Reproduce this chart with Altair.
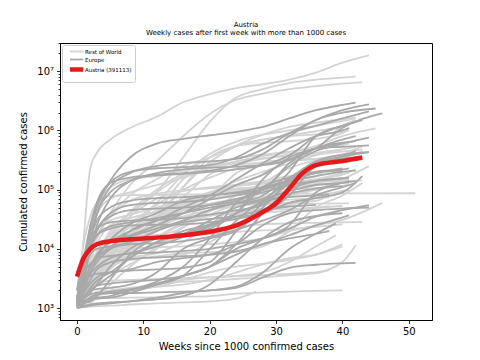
import altair as alt
import pandas as pd

WEEKS = [0, 1, 2, 3, 5, 8, 12, 16, 20, 24, 28, 32, 36, 40]
GROUPS = ["Rest of World", "Europe", "Austria (391113)"]
COLORS = ["#d3d3d3", "#a9a9a9", "#e41a1c"]
WIDTHS = [1.8, 1.8, 4.5]

# (last week, values at WEEKS points before last week + value at last week)
rest_of_world = {
    "US": (44, [1.2e3, 1.5e4, 2.3e5, 4.2e5, 7e5, 1.1e6, 1.7e6, 3e6, 4.1e6, 5.2e6, 6e6, 7.2e6, 9.5e6, 1.4e7, 1.85e7]),
    "India": (42, [1.1e3, 2.5e3, 5e3, 8e3, 2e4, 4e4, 9e4, 3.5e5, 1.4e6, 3.6e6, 5e6, 6.3e6, 7.2e6, 7.8e6, 8.1e6]),
    "Brazil": (43, [1.2e3, 3e3, 8e3, 1.5e4, 4e4, 1.2e5, 3e5, 8e5, 1.9e6, 3.3e6, 4.2e6, 5e6, 5.6e6, 6.2e6, 6.5e6]),
    "Turkey": (42, [1.2e3, 7e3, 2.3e4, 5.2e4, 1.1e5, 1.5e5, 1.7e5, 2.1e5, 2.4e5, 2.8e5, 3.3e5, 4e5, 5e5, 1.2e6, 1.5e6]),
    "Argentina": (42, [1.1e3, 1.7e3, 2.5e3, 3.5e3, 5.5e3, 1.1e4, 3.5e4, 1.1e5, 2.9e5, 5.5e5, 8.5e5, 1.15e6, 1.35e6, 1.55e6, 1.65e6]),
    "Colombia": (42, [1.2e3, 2e3, 3e3, 4.5e3, 1e4, 2.5e4, 6e4, 1.8e5, 4e5, 6.5e5, 8.5e5, 1e6, 1.2e6, 1.45e6, 1.6e6]),
    "Mexico": (42, [1.1e3, 2e3, 3.2e3, 6e3, 1.6e4, 4.2e4, 1e5, 1.9e5, 3.5e5, 5.5e5, 7e5, 8.3e5, 9.7e5, 1.2e6, 1.4e6]),
    "Iran": (45, [1.2e3, 7e3, 1.8e4, 3.8e4, 7e4, 9e4, 1.2e5, 1.6e5, 2.3e5, 3e5, 3.7e5, 4.3e5, 5.5e5, 8e5, 1.08e6]),
    "South Africa": (41, [1.1e3, 1.5e3, 2e3, 3e3, 4.5e3, 1e4, 3e4, 1.1e5, 3.5e5, 5.5e5, 6.2e5, 6.6e5, 7.2e5, 9e5, 1.1e6]),
    "Peru": (41, [1.2e3, 2.5e3, 7e3, 1.5e4, 3.6e4, 8e4, 1.5e5, 2.5e5, 3.5e5, 5.5e5, 7e5, 8e5, 8.6e5, 9.5e5, 1e6]),
    "Chile": (41, [1.1e3, 2.5e3, 4e3, 6e3, 1e4, 1.7e4, 4e4, 1.5e5, 2.7e5, 3.4e5, 3.9e5, 4.4e5, 4.9e5, 5.6e5, 6e5]),
    "Canada": (43, [1.2e3, 4e3, 1e4, 1.7e4, 3.5e4, 6.5e4, 8.5e4, 9.8e4, 1.05e5, 1.15e5, 1.3e5, 1.6e5, 2.4e5, 3.8e5, 5.5e5]),
    "Israel": (43, [1.2e3, 3.5e3, 8e3, 1.2e4, 1.5e4, 1.6e4, 1.7e4, 2.3e4, 4.5e4, 8e4, 1.3e5, 2.3e5, 3.1e5, 3.4e5, 4.5e5]),
    "Philippines": (43, [1.1e3, 2.5e3, 4e3, 6e3, 9e3, 1.2e4, 1.6e4, 3e4, 7e4, 1.9e5, 2.7e5, 3.3e5, 3.9e5, 4.4e5, 4.8e5]),
    "Indonesia": (42, [1.1e3, 1.8e3, 3e3, 4.5e3, 8e3, 1.4e4, 2.6e4, 4.5e4, 8.5e4, 1.4e5, 2e5, 2.8e5, 3.8e5, 4.8e5, 5.3e5]),
    "Saudi Arabia": (41, [1.2e3, 1.8e3, 2.8e3, 4e3, 7.5e3, 2e4, 5.5e4, 1e5, 1.6e5, 2.3e5, 2.9e5, 3.2e5, 3.3e5, 3.45e5, 3.55e5]),
    "Pakistan": (42, [1.1e3, 2e3, 3e3, 4.6e3, 8e3, 1.5e4, 3.2e4, 7.5e4, 1.8e5, 2.6e5, 2.9e5, 3.1e5, 3.3e5, 3.9e5, 4.9e5]),
    "Bangladesh": (40, [1.2e3, 2.5e3, 5e3, 9e3, 1.8e4, 4e4, 9e4, 1.7e5, 2.4e5, 3e5, 3.4e5, 3.7e5, 4.2e5, 4.8e5]),
    "China": (51, [2e3, 1.2e4, 3.5e4, 6e4, 7.8e4, 8.1e4, 8.2e4, 8.3e4, 8.35e4, 8.45e4, 8.5e4, 8.55e4, 8.6e4, 8.65e4, 8.7e4]),
    "Japan": (44, [1.1e3, 1.5e3, 2.5e3, 4e3, 9e3, 1.3e4, 1.6e4, 1.75e4, 2.5e4, 5.5e4, 7e4, 8e4, 1e5, 1.5e5, 2.5e5]),
    "South Korea": (46, [2e3, 5e3, 7e3, 8e3, 9e3, 1e4, 1.07e4, 1.1e4, 1.2e4, 1.3e4, 1.5e4, 2e4, 2.5e4, 3.1e4, 6e4]),
    "Australia": (43, [1.2e3, 3.5e3, 5.5e3, 6.3e3, 6.7e3, 6.9e3, 7.2e3, 7.9e3, 1.3e4, 2.3e4, 2.6e4, 2.7e4, 2.75e4, 2.8e4, 2.85e4]),
    "Egypt": (41, [1.1e3, 1.5e3, 2.3e3, 3.1e3, 5.5e3, 1.1e4, 2.6e4, 5.5e4, 8.8e4, 9.7e4, 1e5, 1.03e5, 1.06e5, 1.15e5, 1.3e5]),
    "Malaysia": (43, [1.3e3, 2.5e3, 3.5e3, 4.5e3, 5.5e3, 6.5e3, 7.5e3, 8.5e3, 8.8e3, 9.3e3, 1.1e4, 2e4, 5e4, 8e4, 1.3e5]),
    "Thailand": (42, [1.1e3, 1.6e3, 2.2e3, 2.6e3, 2.9e3, 3e3, 3.1e3, 3.2e3, 3.35e3, 3.45e3, 3.6e3, 3.8e3, 4e3, 6e3, 1.15e4]),
    "New Zealand": (40, [1.05e3, 1.2e3, 1.4e3, 1.45e3, 1.48e3, 1.5e3, 1.52e3, 1.55e3, 1.6e3, 1.75e3, 1.85e3, 1.9e3, 1.95e3, 2e3]),
    "Vietnam": (27, [1.02e3, 1.04e3, 1.06e3, 1.08e3, 1.1e3, 1.15e3, 1.2e3, 1.25e3, 1.3e3, 1.45e3, 1.9e3]),
    "Taiwan": (38, [1.02e3, 1.3e3, 1.6e3, 1.9e3, 2e3, 2.2e3, 2.5e3, 2.8e3, 2.9e3, 3.1e3, 3.3e3, 3.6e3, 3.9e3, 4.4e3]),
    "Sri Lanka": (39, [1.02e3, 1.2e3, 1.4e3, 1.6e3, 1.8e3, 2e3, 2.5e3, 3e3, 3.3e3, 3.5e3, 4e3, 6e3, 1.1e4, 1.7e4]),
    "Uruguay": (40, [1.05e3, 1.3e3, 1.5e3, 1.7e3, 1.9e3, 2e3, 2.3e3, 2.5e3, 3e3, 4e3, 5.5e3, 7e3, 8e3, 1.1e4]),
    "Kazakhstan": (41, [1.2e3, 2e3, 3e3, 4e3, 6e3, 1.1e4, 2e4, 5e4, 8.5e4, 1.05e5, 1.1e5, 1.2e5, 1.4e5, 1.55e5, 1.65e5]),
    "Qatar": (43, [1.3e3, 2.5e3, 4e3, 7e3, 1.5e4, 3.5e4, 7e4, 9.5e4, 1.1e5, 1.2e5, 1.26e5, 1.31e5, 1.36e5, 1.4e5, 1.44e5]),
    "UAE": (42, [1.1e3, 2.5e3, 5e3, 8e3, 1.3e4, 2e4, 3.5e4, 4.5e4, 5.8e4, 6.5e4, 7.5e4, 1e5, 1.45e5, 1.8e5, 2.2e5]),
    "Morocco": (42, [1.1e3, 1.8e3, 3e3, 4e3, 5e3, 7e3, 8.5e3, 1.3e4, 2.5e4, 5.5e4, 9e4, 1.5e5, 2.5e5, 3.7e5, 4.2e5]),
    "Nigeria": (38, [1.1e3, 1.7e3, 2.5e3, 3.5e3, 6e3, 1.2e4, 2.2e4, 3.5e4, 4.5e4, 5.3e4, 5.7e4, 6.1e4, 6.5e4, 8e4]),
    "Ghana": (38, [1.1e3, 1.5e3, 2.2e3, 3e3, 5e3, 9e3, 1.6e4, 2.6e4, 3.6e4, 4.3e4, 4.6e4, 4.7e4, 5e4, 5.3e4]),
    "Kenya": (33, [1.1e3, 1.5e3, 2.2e3, 3e3, 5e3, 1e4, 2e4, 3e4, 3.6e4, 4.2e4, 5.5e4, 8e4, 9.5e4]),
    "Ecuador": (40, [1.2e3, 3e3, 8e3, 2.2e4, 3e4, 3.8e4, 5e4, 6.8e4, 9e4, 1.2e5, 1.4e5, 1.7e5, 1.9e5, 2.1e5]),
    "Bolivia": (38, [1.1e3, 1.7e3, 2.5e3, 3.5e3, 6e3, 1.4e4, 3e4, 5.5e4, 9e4, 1.2e5, 1.3e5, 1.38e5, 1.43e5, 1.5e5]),
    "Panama": (40, [1.2e3, 2.5e3, 3.5e3, 4.5e3, 7.5e3, 1.2e4, 2.3e4, 4.5e4, 7.5e4, 9.5e4, 1.1e5, 1.3e5, 1.5e5, 1.9e5]),
    "Dominican Republic": (40, [1.3e3, 2.5e3, 4e3, 5.5e3, 9e3, 1.5e4, 2.5e4, 5e4, 8e4, 1e5, 1.15e5, 1.25e5, 1.35e5, 1.6e5]),
    "Guatemala": (36, [1.1e3, 1.6e3, 2.5e3, 3.8e3, 8e3, 2e4, 4.2e4, 6.5e4, 8.3e4, 9.5e4, 1.05e5, 1.13e5, 1.2e5]),
    "Oman": (40, [1.1e3, 1.6e3, 2.5e3, 3.5e3, 7e3, 1.6e4, 3.6e4, 6e4, 8.5e4, 1e5, 1.1e5, 1.2e5, 1.25e5, 1.3e5]),
    "Singapore": (41, [1.1e3, 2.5e3, 6e3, 1.2e4, 2.5e4, 3.3e4, 4.2e4, 5.2e4, 5.6e4, 5.7e4, 5.75e4, 5.8e4, 5.82e4, 5.85e4, 5.87e4]),
    "Kuwait": (41, [1.2e3, 2e3, 3.5e3, 6e3, 1.4e4, 2.8e4, 4.4e4, 6e4, 7.8e4, 9.2e4, 1.05e5, 1.2e5, 1.35e5, 1.45e5, 1.5e5]),
    "Algeria": (41, [1.2e3, 1.8e3, 2.6e3, 3.3e3, 5e3, 7.5e3, 1.1e4, 1.6e4, 2.5e4, 3.8e4, 4.8e4, 5.5e4, 7.5e4, 9.5e4, 1e5]),
    "Cameroon": (40, [1.1e3, 1.5e3, 2.2e3, 3e3, 5e3, 8e3, 1.2e4, 1.6e4, 1.8e4, 1.95e4, 2.05e4, 2.15e4, 2.35e4, 2.6e4]),
    "Honduras": (38, [1.1e3, 1.5e3, 2e3, 2.8e3, 5e3, 1e4, 2.2e4, 4e4, 5.8e4, 6.8e4, 7.4e4, 8.5e4, 1e5, 1.1e5]),
    "Afghanistan": (40, [1.1e3, 1.8e3, 3e3, 5.3e3, 1.3e4, 2.3e4, 3.1e4, 3.5e4, 3.75e4, 3.9e4, 4.1e4, 4.4e4, 4.9e4, 5.3e4]),
    "Lebanon": (37, [1.05e3, 1.1e3, 1.2e3, 1.5e3, 2.5e3, 5e3, 1.1e4, 2.4e4, 4.3e4, 6.5e4, 1e5, 1.4e5, 1.7e5, 1.9e5]),
    "Ethiopia": (30, [1.1e3, 1.5e3, 2.5e3, 4e3, 8e3, 1.8e4, 3.5e4, 5.5e4, 7e4, 8.5e4, 1e5, 1.1e5]),
    "Cuba": (40, [1.1e3, 1.3e3, 1.5e3, 1.7e3, 1.85e3, 2e3, 2.3e3, 3e3, 4e3, 5e3, 5.6e3, 6.5e3, 8e3, 1.2e4]),
    "Uzbekistan": (38, [1.2e3, 1.6e3, 2e3, 2.5e3, 3.5e3, 5.5e3, 1e4, 2.3e4, 3.8e4, 5.5e4, 6.2e4, 6.8e4, 7.2e4, 7.5e4]),
}

europe = {
    "Russia": (42, [1.5e3, 5e3, 2e4, 5e4, 1.4e5, 3.5e5, 6e5, 7.2e5, 8.3e5, 9.5e5, 1.15e6, 1.6e6, 2.2e6, 2.7e6, 2.95e6]),
    "United Kingdom": (44, [1.3e3, 4e3, 1.5e4, 4e4, 1.1e5, 1.9e5, 2.5e5, 2.8e5, 3e5, 3.3e5, 4.8e5, 9e5, 1.5e6, 2.2e6, 2.75e6]),
    "France": (45, [1.2e3, 4.5e3, 1.4e4, 3.8e4, 9e4, 1.4e5, 1.8e5, 1.9e5, 2.1e5, 2.6e5, 4e5, 8e5, 1.5e6, 2e6, 2.35e6]),
    "Italy": (46, [1.1e3, 3e3, 1e4, 2.5e4, 7e4, 1.4e5, 1.9e5, 2.2e5, 2.35e5, 2.45e5, 2.6e5, 3.2e5, 5e5, 1.1e6, 1.95e6]),
    "Spain": (44, [1.4e3, 6e3, 2.5e4, 6e4, 1.3e5, 2e5, 2.3e5, 2.4e5, 2.6e5, 3.5e5, 6e5, 9e5, 1.2e6, 1.6e6, 2.1e6]),
    "Germany": (43, [1.1e3, 5e3, 2e4, 6e4, 1.3e5, 1.6e5, 1.75e5, 1.85e5, 2e5, 2.2e5, 2.6e5, 3.8e5, 8e5, 1.2e6, 1.5e6]),
    "Poland": (41, [1.2e3, 3e3, 5e3, 7e3, 1.1e4, 1.6e4, 2.2e4, 3e4, 4.5e4, 6e4, 8e4, 2e5, 8e5, 1.2e6, 1.3e6]),
    "Netherlands": (44, [1.3e3, 5e3, 1.2e4, 2.2e4, 3.5e4, 4.5e4, 4.8e4, 5e4, 5.5e4, 6.5e4, 1e5, 2.5e5, 4.5e5, 6e5, 7.6e5]),
    "Belgium": (44, [1.2e3, 3e3, 1e4, 2e4, 4e4, 5.5e4, 6e4, 6.2e4, 6.8e4, 8e4, 1e5, 2.8e5, 5e5, 5.3e5, 5.6e5]),
    "Czechia": (42, [1.2e3, 2.5e3, 3.8e3, 5e3, 7e3, 8.5e3, 1.1e4, 1.6e4, 2.4e4, 4e4, 1.5e5, 3.5e5, 5e5, 7e5, 8e5]),
    "Switzerland": (44, [2e3, 7e3, 1.5e4, 2.2e4, 2.8e4, 3e4, 3.1e4, 3.3e4, 3.8e4, 4.5e4, 5.5e4, 1.5e5, 3e5, 3.9e5, 4.3e5]),
    "Portugal": (42, [1.3e3, 4e3, 1e4, 1.7e4, 2.4e4, 2.8e4, 3.3e4, 4e4, 5e4, 5.8e4, 7e4, 1.4e5, 2.6e5, 3.6e5, 4.5e5]),
    "Sweden": (44, [1.1e3, 2e3, 4e3, 7e3, 1.4e4, 2.6e4, 4e4, 6.5e4, 8e4, 8.8e4, 1e5, 1.5e5, 2.8e5, 3.6e5, 4.3e5]),
    "Ukraine": (41, [1.2e3, 2.5e3, 5e3, 8e3, 1.3e4, 2e4, 3e4, 5e4, 8e4, 1.5e5, 2.8e5, 5e5, 8e5, 1e6, 1.1e6]),
    "Romania": (42, [1.2e3, 2.5e3, 5e3, 8e3, 1.3e4, 1.7e4, 2.5e4, 4e4, 7e4, 1.2e5, 1.8e5, 3.2e5, 5e5, 6.2e5, 6.6e5]),
    "Ireland": (43, [1.2e3, 3.5e3, 1e4, 1.7e4, 2.2e4, 2.5e4, 2.55e4, 2.6e4, 2.8e4, 3.2e4, 4e4, 6e4, 7.2e4, 9e4, 1.7e5]),
    "Denmark": (42, [1e3, 2.5e3, 5e3, 7e3, 1e4, 1.2e4, 1.25e4, 1.35e4, 1.6e4, 2.1e4, 3e4, 4.5e4, 8e4, 1.1e5, 1.3e5]),
    "Norway": (44, [1.2e3, 3.8e3, 5.6e3, 7e3, 7.6e3, 8.3e3, 8.7e3, 9.2e3, 1e4, 1.2e4, 1.5e4, 2.2e4, 3.5e4, 4.5e4, 5.5e4]),
    "Greece": (42, [1.1e3, 1.5e3, 2e3, 2.4e3, 2.6e3, 2.8e3, 3e3, 3.5e3, 5e3, 1e4, 1.5e4, 2.5e4, 9e4, 1.3e5, 1.4e5]),
    "Finland": (41, [1.1e3, 1.9e3, 3e3, 4.5e3, 5.9e3, 6.7e3, 7.2e3, 7.5e3, 8e3, 9e3, 1.2e4, 1.7e4, 2.5e4, 3.4e4, 3.7e4]),
    "Hungary": (41, [1.1e3, 1.8e3, 2.6e3, 3.3e3, 4e3, 4.3e3, 4.5e3, 4.8e3, 6e3, 2e4, 6e4, 1.6e5, 2.5e5, 3.3e5, 3.5e5]),
    "Serbia": (42, [1.5e3, 4e3, 8e3, 1e4, 1.1e4, 1.3e4, 2e4, 2.8e4, 3.2e4, 3.5e4, 4e4, 8e4, 2.5e5, 3.2e5, 3.5e5]),
    "Belarus": (42, [1.5e3, 4e3, 1.5e4, 3e4, 5e4, 6.5e4, 7.2e4, 7.5e4, 8e4, 9e4, 1.1e5, 1.4e5, 1.7e5, 2e5, 2.1e5]),
    "Croatia": (41, [1.1e3, 1.6e3, 2e3, 2.1e3, 2.2e3, 2.5e3, 4e3, 1e4, 1.5e4, 2e4, 5e4, 1.3e5, 2e5, 2.2e5, 2.3e5]),
    "Slovakia": (40, [1.05e3, 1.2e3, 1.4e3, 1.5e3, 1.6e3, 2e3, 2.8e3, 5e3, 1.5e4, 6e4, 1e5, 1.4e5, 1.9e5, 2.3e5]),
    "Bulgaria": (40, [1.1e3, 1.5e3, 2.2e3, 2.9e3, 4e3, 7e3, 1.3e4, 1.7e4, 2.2e4, 4e4, 1.1e5, 1.6e5, 2e5, 2.1e5]),
    "Moldova": (41, [1.2e3, 2.5e3, 4e3, 6e3, 1e4, 2e4, 3e4, 4e4, 5.5e4, 7e4, 9e4, 1.2e5, 1.4e5, 1.55e5, 1.6e5]),
    "Bosnia and Herzegovina": (40, [1.1e3, 1.5e3, 2e3, 2.4e3, 3.5e3, 7e3, 1.3e4, 2e4, 2.6e4, 4e4, 6e4, 8.5e4, 1.05e5, 1.15e5]),
    "Lithuania": (40, [1.1e3, 1.3e3, 1.5e3, 1.7e3, 1.8e3, 2e3, 2.6e3, 3.5e3, 5e3, 1.2e4, 4e4, 1e5, 1.4e5, 1.55e5]),
    "Slovenia": (41, [1.1e3, 1.3e3, 1.4e3, 1.45e3, 1.5e3, 1.8e3, 2.5e3, 3.5e3, 1e4, 3e4, 6.5e4, 9.5e4, 1.2e5, 1.3e5, 1.4e5]),
    "Luxembourg": (44, [1.5e3, 2.5e3, 3.5e3, 3.8e3, 4e3, 4.5e3, 6e3, 7e3, 8e3, 1.2e4, 2.5e4, 4e4, 4.5e4, 4.8e4, 5e4]),
    "Iceland": (42, [1.1e3, 1.5e3, 1.7e3, 1.8e3, 1.8e3, 1.8e3, 1.85e3, 1.9e3, 2e3, 2.2e3, 3.3e3, 4.8e3, 5.4e3, 5.7e3, 5.8e3]),
    "Latvia": (40, [1.05e3, 1.1e3, 1.15e3, 1.2e3, 1.25e3, 1.3e3, 1.4e3, 1.6e3, 2.5e3, 6e3, 1.5e4, 2.8e4, 3.6e4, 4e4]),
    "North Macedonia": (38, [1.1e3, 1.4e3, 1.8e3, 2.5e3, 5e3, 1e4, 1.5e4, 1.8e4, 3e4, 5e4, 6.5e4, 7.5e4, 8e4, 8.3e4]),
    "Kosovo": (36, [1.05e3, 1.2e3, 1.3e3, 1.6e3, 3e3, 8e3, 1.5e4, 1.8e4, 2.5e4, 3.5e4, 4.5e4, 5.2e4, 5.5e4]),
    "Cyprus": (39, [1e3, 1.05e3, 1.1e3, 1.15e3, 1.2e3, 1.3e3, 1.5e3, 1.8e3, 2e3, 2.3e3, 4e3, 1e4, 1.8e4, 2.7e4]),
    "Malta": (38, [1.05e3, 1.2e3, 1.5e3, 1.7e3, 1.9e3, 2.1e3, 2.5e3, 3.5e3, 5e3, 8e3, 1.2e4, 1.5e4, 1.8e4, 2e4]),
}

austria_weeks = [0, 1, 2, 3, 5, 8, 12, 16, 20, 24, 28, 30, 32, 34, 36, 40, 43]
austria_values = [3.4e3, 7e3, 1e4, 1.2e4, 1.35e4, 1.45e4, 1.55e4, 1.7e4, 1.95e4, 2.5e4,
                  4.2e4, 5.9e4, 1.05e5, 1.9e5, 2.6e5, 3.05e5, 3.5e5]

Y_LABELS = {1000: "10³", 10000: "10⁴", 100000: "10⁵", 1000000: "10⁶", 10000000: "10⁷"}


def build(series, group):
    out = []
    for name, (end, vals) in series.items():
        wk = [w for w in WEEKS if w < end] + [end]
        for i, (w, v) in enumerate(zip(wk, vals)):
            out.append({"country": name, "week": w, "cases": v, "group": group, "order": i})
    return out


rows = build(rest_of_world, GROUPS[0]) + build(europe, GROUPS[1])
for i, (w, v) in enumerate(zip(austria_weeks, austria_values)):
    rows.append({"country": "Austria", "week": w, "cases": v, "group": GROUPS[2], "order": i})
df = pd.DataFrame(rows)

y_ticks = [m * 10 ** k for k in range(2, 8) for m in range(1, 10) if 630 <= m * 10 ** k <= 3e7]
label_expr = " : ".join(f"datum.value == {k} ? '{v}'" for k, v in Y_LABELS.items()) + " : ''"
major_test = "indexof([" + ",".join(str(k) for k in Y_LABELS) + "], datum.value) >= 0"

legend = alt.Legend(
    title=None, orient="top-left", offset=2, fillColor="white", strokeColor="#cccccc",
    cornerRadius=2, padding=3, labelFontSize=5.5, labelFont="DejaVu Sans", labelColor="black",
    symbolType="M0,0H5.3", symbolSize=25, rowPadding=-3.5, labelOffset=10,
)

x = alt.X("week:Q", scale=alt.Scale(domain=[-2.56, 53.5], nice=False, zero=False),
          axis=alt.Axis(values=[0, 10, 20, 30, 40, 50], title="Weeks since 1000 confirmed cases",
                        tickSize=3.5, labelPadding=3, titlePadding=5, labelFlush=False))
y = alt.Y("cases:Q", scale=alt.Scale(type="log", domain=[630, 3e7], nice=False),
          axis=alt.Axis(values=y_ticks, labelExpr=label_expr, title="Cumulated confirmed cases",
                        tickSize={"condition": {"test": major_test, "value": 3.5}, "value": 2},
                        labelOverlap=False, labelPadding=3, titlePadding=8, labelFlush=False))
color = alt.Color("group:N", scale=alt.Scale(domain=GROUPS, range=COLORS), legend=legend)
width = alt.StrokeWidth("group:N", scale=alt.Scale(type="ordinal", domain=GROUPS, range=WIDTHS),
                        legend=legend)

base = alt.Chart(df).mark_line(interpolate="monotone", clip=True).encode(
    x=x, y=y, color=color, strokeWidth=width, detail="country:N", order="order:Q"
)
layers = [base.transform_filter(alt.datum.group == g) for g in GROUPS]

chart = alt.layer(*layers).properties(
    width=372, height=277,
    autosize=alt.AutoSizeParams(type="none"),
    padding={"left": 52, "top": 35, "right": 40, "bottom": 37},
    title=alt.TitleParams(["Austria", "Weekly cases after first week with more than 1000 cases"],
                          fontSize=7, font="DejaVu Sans", fontWeight="normal", anchor="middle",
                          offset=2, lineHeight=8.5, color="black"),
).configure_view(stroke="black", strokeWidth=1).configure_axis(
    domainColor="black", tickColor="black", labelColor="black", titleColor="black",
    labelFont="DejaVu Sans", titleFont="DejaVu Sans", labelFontSize=10, titleFontSize=10,
    titleFontWeight="normal", grid=False, tickWidth=0.8, domainWidth=1,
)

chart.save("out.html", embed_options={"renderer": "svg", "actions": False})
